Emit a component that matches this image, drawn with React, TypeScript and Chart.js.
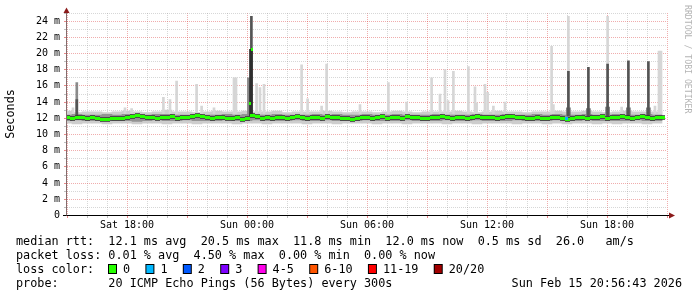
import React, { useEffect, useRef } from 'react';
import { Chart, registerables } from 'chart.js';

Chart.register(...registerables);

// ---------- data ----------
// time axis: hours since Sat 15:00 (0 .. 30)
const MEDIAN_STEP_H = 0.25;
const BAND_STEP_H = 0.5;

const xTickHours = [3, 9, 15, 21, 27];
const xTickLabels = ['Sat 18:00', 'Sun 00:00', 'Sun 06:00', 'Sun 12:00', 'Sun 18:00'];

// median rtt (ms), one value per 15 minutes
const medianRtt = [
  12.1, 12.0, 12.1, 12.1, 12.0, 12.1, 12.0, 11.9, 11.9, 12.0,
  12.0, 12.0, 12.1, 12.2, 12.3, 12.2, 12.1, 12.1, 12.0, 12.1,
  12.1, 12.2, 12.0, 12.1, 12.1, 12.2, 12.3, 12.2, 12.1, 12.0,
  12.1, 12.1, 12.0, 12.0, 12.1, 11.9, 12.0, 12.4, 12.2, 12.0,
  12.1, 12.0, 12.1, 12.1, 12.0, 12.1, 12.2, 12.1, 12.0, 12.1,
  12.1, 12.0, 12.2, 12.1, 12.1, 12.0, 12.0, 11.9, 12.0, 12.1,
  12.1, 12.0, 12.1, 12.2, 12.0, 12.1, 12.1, 12.0, 12.2, 12.1,
  12.1, 12.0, 12.0, 12.1, 12.1, 12.2, 12.1, 12.0, 12.1, 12.1,
  12.0, 12.1, 12.2, 12.1, 12.1, 12.1, 12.0, 12.1, 12.2, 12.2,
  12.1, 12.1, 12.0, 12.0, 12.1, 12.0, 12.0, 12.1, 12.1, 12.0,
  11.9, 12.0, 12.1, 12.1, 12.0, 12.1, 12.1, 12.2, 12.0, 12.1,
  12.1, 12.2, 12.1, 12.0, 12.1, 12.2, 12.1, 12.0, 12.1, 12.1,
];

// smoke bands (ms), one value per 30 minutes
const outerLo = [
  11.4, 11.3, 11.4, 11.4, 11.3, 11.4, 11.4, 11.3, 11.4, 11.4,
  11.3, 11.4, 11.4, 11.3, 11.4, 11.4, 11.4, 11.3, 11.4, 11.4,
  11.3, 11.4, 11.4, 11.4, 11.3, 11.4, 11.4, 11.3, 11.4, 11.4,
  11.4, 11.3, 11.4, 11.4, 11.3, 11.4, 11.4, 11.4, 11.3, 11.4,
  11.4, 11.3, 11.4, 11.4, 11.4, 11.3, 11.4, 11.4, 11.3, 11.4,
  11.3, 11.4, 11.4, 11.3, 11.4, 11.3, 11.4, 11.4, 11.3, 11.4,
];
const outerHi = [
  12.9, 12.7, 12.8, 12.8, 12.7, 12.8, 12.9, 12.8, 12.7, 12.8,
  13.0, 12.8, 12.8, 12.7, 12.8, 12.9, 12.8, 12.8, 12.9, 12.8,
  12.8, 12.9, 12.7, 12.8, 12.8, 12.8, 12.9, 12.8, 12.7, 12.8,
  12.8, 12.7, 12.8, 12.9, 12.8, 12.7, 12.8, 12.8, 12.8, 12.9,
  12.8, 12.7, 12.8, 12.9, 12.8, 12.8, 12.7, 12.8, 12.8, 12.9,
  12.8, 12.8, 12.9, 12.8, 12.7, 12.8, 12.9, 12.8, 12.8, 12.8,
];
const innerLo = [
  11.7, 11.8, 11.7, 11.7, 11.8, 11.7, 11.7, 11.6, 11.7, 11.8,
  11.7, 11.7, 11.8, 11.7, 11.7, 11.7, 11.8, 11.7, 11.7, 11.8,
  11.7, 11.7, 11.7, 11.8, 11.7, 11.7, 11.8, 11.7, 11.7, 11.7,
  11.8, 11.7, 11.7, 11.7, 11.8, 11.7, 11.7, 11.7, 11.8, 11.7,
  11.7, 11.8, 11.7, 11.7, 11.7, 11.8, 11.7, 11.7, 11.7, 11.8,
  11.7, 11.7, 11.8, 11.7, 11.7, 11.7, 11.7, 11.8, 11.7, 11.7,
];
const innerHi = [
  12.4, 12.5, 12.4, 12.4, 12.5, 12.4, 12.5, 12.4, 12.4, 12.5,
  12.5, 12.4, 12.4, 12.5, 12.4, 12.4, 12.5, 12.4, 12.5, 12.4,
  12.4, 12.5, 12.4, 12.4, 12.4, 12.5, 12.4, 12.5, 12.4, 12.4,
  12.5, 12.4, 12.4, 12.5, 12.4, 12.4, 12.4, 12.5, 12.4, 12.4,
  12.4, 12.5, 12.4, 12.4, 12.5, 12.4, 12.4, 12.5, 12.4, 12.5,
  12.4, 12.4, 12.5, 12.4, 12.4, 12.5, 12.4, 12.4, 12.5, 12.4,
];

// outlier spikes: [hour, top ms]
const SPIKE_BASE = 12.6;
const DARK_BASE = 12.3;
const lightSpikes: [number, number][] = [
  [0.30, 13.3], [2.90, 13.3], [3.23, 13.2], [4.82, 14.6], [5.15, 14.3],
  [5.48, 16.6], [6.48, 16.2], [6.73, 13.5], [7.35, 13.3], [8.35, 17.0],
  [8.45, 17.0], [9.48, 16.3], [9.65, 15.8], [9.85, 16.2], [11.73, 18.6],
  [12.03, 14.4], [12.73, 13.5], [12.98, 18.7], [14.65, 13.7], [16.07, 16.4],
  [16.98, 14.0], [18.23, 17.0], [18.65, 15.0], [18.90, 18.0], [19.05, 14.2],
  [19.32, 17.8], [20.07, 18.4], [20.40, 15.9], [20.48, 13.9], [20.90, 16.2],
  [21.03, 15.2], [21.32, 13.5], [21.90, 14.0], [24.23, 20.9], [24.32, 13.7],
  [25.07, 24.6], [27.03, 24.6], [27.73, 13.4], [29.40, 13.5], [29.60, 20.3],
  [29.70, 20.3],
];
const mediumSpikes: [number, number][] = [
  [0.49, 16.4], [9.07, 17.0], [9.14, 16.0],
];
const darkBases: [number, number][] = [
  [25.07, 13.3], [26.07, 13.2], [27.03, 13.4], [28.07, 13.3], [29.07, 13.3],
];
const darkSpikes: [number, number][] = [
  [0.49, 14.3], [9.22, 24.6], [25.07, 17.8], [26.07, 18.3], [27.03, 18.7],
  [28.07, 19.1], [29.07, 19.0],
];
const blackSpikes: [number, number][] = [[9.20, 20.5]];

// median samples outside the regular series (spike hour) and loss samples
const medianPeaks: [number, number][] = [[9.13, 13.8], [9.23, 20.5]];
const lossOneMedian: [number, number][] = [[24.98, 12.0]];

// legend
const rttStats = ['12.1 ms avg', '20.5 ms max', '11.8 ms min', '12.0 ms now', '0.5 ms sd', '26.0   am/s'];
const lossStats = ['0.01 % avg', '4.50 % max', '0.00 % min', '0.00 % now'];
const lossLabels = ['0', '1', '2', '3', '4-5', '6-10', '11-19', '20/20'];
const lossColors = ['#26ff00', '#00b8ff', '#0059ff', '#7e00ff', '#ff00ea', '#ff5500', '#ff0000', '#a10000'];
const probeText = '20 ICMP Echo Pings (56 Bytes) every 300s';
const dateText = 'Sun Feb 15 20:56:43 2026';

// ---------- drawing ----------
const MONO = '"DejaVu Sans Mono", monospace';
const MAJOR = 'rgba(220,60,60,0.42)';
const MINOR = 'rgba(150,150,150,0.38)';
const LEGEND_FONT = `11.8px ${MONO}`;

function block(w: number, h: number, fill: string, edge: string | null) {
  const c = document.createElement('canvas');
  c.width = w;
  c.height = h;
  const g = c.getContext('2d')!;
  if (edge) {
    g.fillStyle = edge;
    g.fillRect(0, 0, w, h);
    g.fillStyle = fill;
    g.fillRect(0, 1, w, h - 2);
  } else {
    g.fillStyle = fill;
    g.fillRect(0, 0, w, h);
  }
  return c;
}

export default function App() {
  const ref = useRef<HTMLCanvasElement>(null);

  useEffect(() => {
    const canvas = ref.current!;
    const medImg = block(5, 5, '#26ff00', 'rgba(50,50,50,0.75)');
    const peakImg = block(2, 3, '#26ff00', null);
    const lossImg = block(3, 3, lossColors[1], null);

    const spikeSet = (arr: [number, number][], base: number, color: string, width: number, order: number) => ({
      type: 'bar' as const,
      data: arr.map(([t, top]) => ({ x: t, y: [base, top] })),
      backgroundColor: color,
      barThickness: width,
      grouped: false,
      borderWidth: 0,
      order,
    });
    const bandSet = (lo: number[], hi: number[], color: string, order: number) => ({
      type: 'bar' as const,
      data: lo.map((v, i) => ({ x: i * BAND_STEP_H, y: [v, hi[i]] })),
      backgroundColor: color,
      barThickness: 10,
      grouped: false,
      borderWidth: 0,
      order,
    });
    const pointSet = (pts: { x: number; y: number }[], img: HTMLCanvasElement, order: number) => ({
      type: 'line' as const,
      data: pts,
      showLine: false,
      pointStyle: img,
      pointRadius: 2,
      order,
    });

    const rrdPlugin = {
      id: 'rrd',
      beforeDraw(chart: any) {
        const ctx = chart.ctx;
        ctx.save();
        ctx.fillStyle = '#ffffff';
        ctx.fillRect(0, 0, chart.width, chart.height);
        ctx.restore();
      },
      beforeDatasetsDraw(chart: any) {
        chart.ctx.imageSmoothingEnabled = false;
      },
      afterDraw(chart: any) {
        const ctx = chart.ctx;
        const xs = chart.scales.x;
        const ys = chart.scales.y;
        ctx.save();
        // small tick marks on the axes
        for (let h = 0; h <= 30; h++) {
          const px = Math.floor(xs.getPixelForValue(h));
          ctx.fillStyle = h % 3 === 0 ? 'rgba(220,60,60,0.6)' : 'rgba(150,150,150,0.6)';
          ctx.fillRect(px, 216, 1, 2);
        }
        for (let v = 0; v <= 25; v++) {
          const py = Math.floor(ys.getPixelForValue(v));
          ctx.fillStyle = v % 2 === 0 ? 'rgba(220,60,60,0.6)' : 'rgba(150,150,150,0.6)';
          ctx.fillRect(64, py, 2, 1);
        }
        // axes
        ctx.fillStyle = '#000';
        ctx.fillRect(63, 215, 607, 1);
        ctx.fillStyle = 'rgba(90,60,60,0.75)';
        ctx.fillRect(66, 10, 1, 206);
        // arrows
        ctx.fillStyle = '#8b1a1a';
        ctx.beginPath();
        ctx.moveTo(66.5, 7.5);
        ctx.lineTo(63.5, 13);
        ctx.lineTo(69.5, 13);
        ctx.closePath();
        ctx.fill();
        ctx.beginPath();
        ctx.moveTo(675, 215.5);
        ctx.lineTo(669, 212.5);
        ctx.lineTo(669, 218.5);
        ctx.closePath();
        ctx.fill();

        // y axis title
        ctx.fillStyle = '#000';
        ctx.font = LEGEND_FONT;
        ctx.textAlign = 'center';
        ctx.textBaseline = 'alphabetic';
        ctx.save();
        ctx.translate(14, 114);
        ctx.rotate(-Math.PI / 2);
        ctx.fillText('Seconds', 0, 0);
        ctx.restore();

        // watermark
        ctx.save();
        ctx.translate(685, 5);
        ctx.rotate(Math.PI / 2);
        ctx.font = `8.2px ${MONO}`;
        ctx.fillStyle = '#b4b4b4';
        ctx.textAlign = 'left';
        ctx.fillText('RRDTOOL / TOBI OETIKER', 0, 0);
        ctx.restore();

        // legend
        ctx.font = LEGEND_FONT;
        ctx.fillStyle = '#000';
        ctx.textAlign = 'left';
        ctx.textBaseline = 'alphabetic';
        ctx.fillText('median rtt:  ' + rttStats.join('  '), 16, 245);
        ctx.fillText('packet loss: ' + lossStats.join('  '), 16, 259);
        ctx.fillText('loss color:', 16, 273);
        let bx = 108;
        lossLabels.forEach((lab, i) => {
          ctx.fillStyle = '#000';
          ctx.fillRect(bx, 264, 9, 10);
          ctx.fillStyle = lossColors[i];
          ctx.fillRect(bx + 1, 265, 7, 8);
          const lx = bx + 15;
          ctx.fillStyle = '#000';
          ctx.fillText(lab, lx, 273);
          bx = lx + ctx.measureText(lab).width + 15.3;
        });
        ctx.fillText('probe:       ' + probeText, 16, 287);
        ctx.textAlign = 'right';
        ctx.fillText(dateText, 682, 287);
        ctx.restore();
      },
    };

    const chart = new Chart(canvas, {
      type: 'bar',
      data: {
        datasets: [
          bandSet(outerLo, outerHi, '#cdcdcd', 20),
          spikeSet(lightSpikes, SPIKE_BASE, '#d6d6d6', 2, 19),
          bandSet(innerLo, innerHi, '#939393', 18),
          spikeSet(mediumSpikes, DARK_BASE, '#8a8a8a', 2, 17),
          spikeSet(darkBases, DARK_BASE, '#7a7a7a', 4, 16),
          spikeSet(darkSpikes, DARK_BASE, '#545454', 2, 15),
          spikeSet(blackSpikes, DARK_BASE, '#2e2e2e', 3, 14),
          pointSet(medianRtt.map((v, i) => ({ x: i * MEDIAN_STEP_H, y: v })), medImg, 5),
          pointSet(medianPeaks.map(([t, v]) => ({ x: t, y: v })), peakImg, 4),
          pointSet(lossOneMedian.map(([t, v]) => ({ x: t, y: v })), lossImg, 3),
        ] as any,
      },
      plugins: [rrdPlugin],
      options: {
        responsive: false,
        animation: false,
        devicePixelRatio: 1,
        events: [],
        layout: { padding: { top: 12, right: 30, left: 0, bottom: 0 } },
        plugins: { legend: { display: false }, tooltip: { enabled: false } },
        scales: {
          x: {
            type: 'linear',
            min: 0,
            max: 30,
            offset: false,
            afterFit(scale: any) {
              scale.height = 81.5;
            },
            grid: {
              offset: false,
              drawTicks: false,
              color: (c: any) => (c.tick && c.tick.value % 3 === 0 ? MAJOR : MINOR),
            },
            border: { display: false, dash: [1, 1] },
            ticks: {
              stepSize: 1,
              autoSkip: false,
              maxRotation: 0,
              padding: 4,
              color: '#000',
              font: { family: MONO, size: 10 },
              callback: (v: any) => {
                const k = xTickHours.indexOf(Number(v));
                return k >= 0 ? xTickLabels[k] : '';
              },
            },
          },
          y: {
            type: 'linear',
            min: 0,
            max: 25,
            afterFit(scale: any) {
              scale.width = 67;
            },
            grid: {
              drawTicks: false,
              color: (c: any) => (c.tick && c.tick.value % 2 === 0 ? MAJOR : MINOR),
            },
            border: { display: false, dash: [1, 1] },
            ticks: {
              stepSize: 1,
              autoSkip: false,
              padding: 7,
              color: '#000',
              font: { family: MONO, size: 10 },
              callback: (v: any) => {
                const n = Number(v);
                if (n % 2 !== 0) return '';
                return n === 0 ? '0' : `${n} m`;
              },
            },
          },
        },
      } as any,
    });
    return () => chart.destroy();
  }, []);

  return (
    <div style={{ position: 'fixed', left: 0, top: 0, width: 697, height: 297, background: '#fff' }}>
      <canvas ref={ref} width={697} height={297} style={{ display: 'block', width: 697, height: 297 }} />
    </div>
  );
}
